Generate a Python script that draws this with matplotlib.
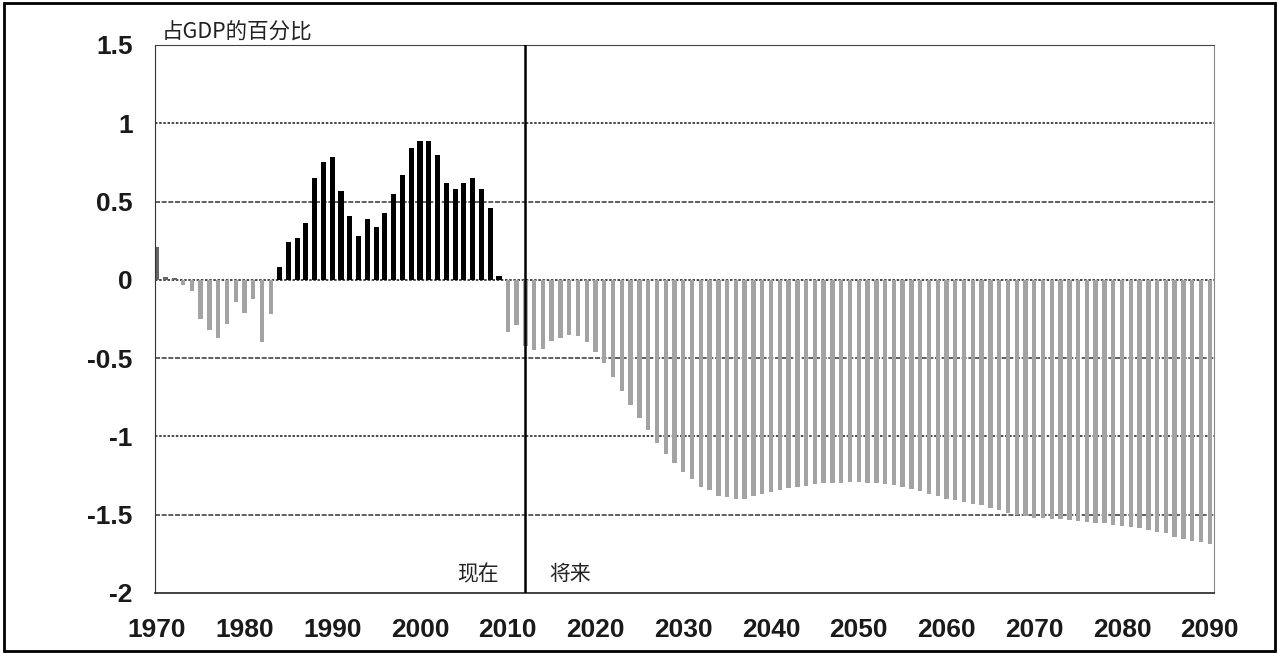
import matplotlib.pyplot as plt
import matplotlib.patches as patches

plt.rcParams['font.family'] = ['Liberation Sans Narrow', 'Liberation Sans', 'DejaVu Sans']

CJK = ['Noto Sans CJK SC', 'DejaVu Sans']

# data (share of GDP, %), one value per year 1970-2090
years = list(range(1970, 2091))
values = [
    0.21, 0.02, 0.01, -0.03, -0.07, -0.25, -0.32, -0.37, -0.28, -0.14,
    -0.21, -0.12, -0.40, -0.22, 0.08, 0.24, 0.27, 0.36, 0.65, 0.75,
    0.785, 0.57, 0.41, 0.28, 0.39, 0.34, 0.43, 0.55, 0.67, 0.84,
    0.89, 0.885, 0.80, 0.62, 0.58, 0.62, 0.65, 0.58, 0.46, 0.025,
    -0.33, -0.29, -0.42, -0.45, -0.44, -0.39, -0.37, -0.35, -0.36, -0.40,
    -0.46, -0.53, -0.62, -0.71, -0.80, -0.88, -0.96, -1.04, -1.11, -1.17,
    -1.23, -1.27, -1.32, -1.34, -1.38, -1.39, -1.40, -1.40, -1.38, -1.365,
    -1.355, -1.34, -1.33, -1.32, -1.315, -1.306, -1.30, -1.295, -1.295, -1.29,
    -1.29, -1.295, -1.30, -1.306, -1.31, -1.32, -1.335, -1.35, -1.365, -1.38,
    -1.40, -1.405, -1.42, -1.43, -1.44, -1.455, -1.47, -1.486, -1.50, -1.51,
    -1.518, -1.524, -1.53, -1.53, -1.535, -1.54, -1.544, -1.55, -1.556, -1.565,
    -1.57, -1.577, -1.588, -1.597, -1.61, -1.62, -1.64, -1.656, -1.667, -1.677,
    -1.69,
]
now_year = 2012
x_ticks = list(range(1970, 2091, 10))
y_ticks = [1.5, 1, 0.5, 0, -0.5, -1, -1.5, -2]
y_tick_labels = ["1.5", "1", "0.5", "0", "-0.5", "-1", "-1.5", "-2"]

colors = []
widths = []
for yr, v in zip(years, values):
    if v > 0 and yr >= 1984:
        colors.append("black")
        widths.append(0.58)
    elif v > 0:
        colors.append("#666666")
        widths.append(0.6)
    else:
        colors.append("#a3a3a3")
        widths.append(0.5)

fig = plt.figure(figsize=(12.79, 6.54), dpi=100)
ax = fig.add_axes([0.1212, 0.0933, 0.8281, 0.8379])

for yv in [1, 0, -1]:
    ax.axhline(yv, color="#2a2a2a", lw=1.2, ls=(0, (1.5, 1)), zorder=1)
for yv in [0.5, -0.5, -1.5]:
    ax.axhline(yv, color="#444444", lw=1.2, ls=(0, (3, 1)), zorder=1)

ax.bar(years, values, width=widths, color=colors, zorder=2)

ax.axvline(now_year, color="black", lw=1.8, zorder=3)

ax.set_xlim(1969.8, 2090.5)
ax.set_ylim(-2, 1.5)
ax.set_xticks(x_ticks)
ax.set_xticklabels([str(t) for t in x_ticks], fontsize=19, fontweight="bold",
                   color="#1a1a1a")
ax.set_yticks(y_ticks)
ax.set_yticklabels(y_tick_labels, fontsize=19, fontweight="bold",
                   color="#1a1a1a")
ax.tick_params(length=0)
ax.tick_params(axis="x", pad=18)
ax.tick_params(axis="y", pad=16)

ax.spines["top"].set_linestyle((0, (2, 1)))
ax.spines["top"].set_color("#444444")
ax.spines["left"].set_linestyle((0, (1, 1)))
ax.spines["left"].set_color("#333333")
ax.spines["right"].set_linestyle((0, (1, 1)))
ax.spines["right"].set_color("#888888")
ax.spines["bottom"].set_color("#222222")
ax.spines["bottom"].set_linewidth(1.2)

ax.text(0.006, 1.004, "占GDP的百分比", transform=ax.transAxes, ha="left",
        va="bottom", fontsize=15.5, family=CJK, color="#222222")
ax.text(now_year - 3, -1.88, "现在", ha="right", va="center",
        fontsize=15, family=CJK, color="#222222")
ax.text(now_year + 2.7, -1.88, "将来", ha="left", va="center",
        fontsize=15, family=CJK, color="#222222")

fig.patches.append(patches.Rectangle((0.003, 0.005), 0.994, 0.99,
                                     transform=fig.transFigure, fill=False,
                                     edgecolor="black", lw=2))

fig.savefig("out.png", dpi=100)
